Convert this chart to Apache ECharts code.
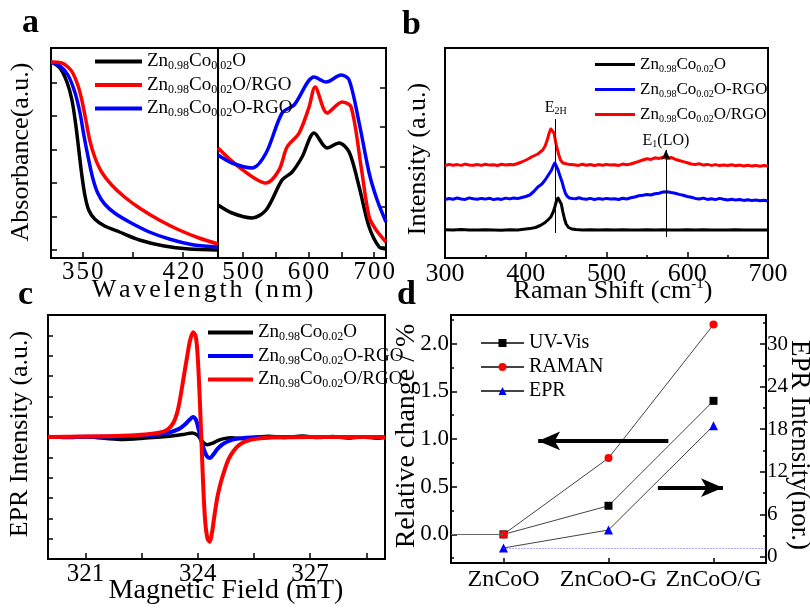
<!DOCTYPE html>
<html>
<head>
<meta charset="utf-8">
<script src="https://cdn.jsdelivr.net/npm/echarts@6/dist/echarts.min.js"></script>
<style>
  html, body { margin: 0; padding: 0; background: #fff; }
  #main { width: 810px; height: 608px; }
</style>
</head>
<body>
<div id="main"></div>
<script>
const FONT = 'Liberation Serif'
const BLACK = '#000000', RED = '#ff0000', BLUE = '#0000ff'

// series names (same sample in every panel keeps the same colour)
const S0 = 'Zn0.98Co0.02O', S1 = 'Zn0.98Co0.02O/RGO', S2 = 'Zn0.98Co0.02O-RGO'

// panel a - absorbance, short wavelength part [nm, a.u.]
const absBlackShort = [[327.8,196],[334,190],[338.9,176],[342.4,158],[345.1,133],[347.2,108],[349.3,83],[351.4,63],[354.1,48],[358.3,39],[365.2,32],[375.6,26],[389.5,18],[406.8,12],[424.1,9],[444.3,8]]
const absRedShort = [[327.8,196],[335.4,195],[339.6,191],[343,185],[346.5,173],[349.3,158],[352.1,138],[354.8,118],[358.3,101],[363.1,86],[370.1,73],[379.1,61],[389.5,50],[403.3,38],[417.2,28],[431.1,20],[444.3,14]]
const absBlueShort = [[327.8,196],[334,192],[339.6,183],[344.4,166],[347.9,146],[350.7,123],[353.4,103],[356.9,80],[360.4,65],[365.2,54],[372.2,45],[382.5,36],[396.4,26],[410.3,19],[427.6,13],[444.3,11]]
// panel a - long wavelength part
const absBlackLong = [[461.8,53],[483.2,45],[513.7,40],[535.1,48],[559.5,78],[574.8,86],[590,101],[608.4,125],[628.2,110],[646.5,115],[661.8,106],[677.1,71],[692.3,31],[707.6,11],[718,9]]
const absRedLong = [[461.8,110],[493.9,91],[535.1,75],[554.9,88],[567.1,111],[585.5,125],[600.7,151],[609.9,171],[628.2,145],[651.1,156],[664.8,151],[680.1,91],[692.3,41],[703,28],[718,16]]
const absBlueLong = [[461.8,103],[483.2,95],[513.7,90],[535.1,105],[559.5,145],[577.8,153],[608.4,181],[626.7,176],[649.6,183],[661.8,178],[677.1,135],[692.3,85],[704.5,58],[718,36]]
const aShortTicks = [350, 385, 420], aShortLabels = [350, 420]
const aLongTicks = [500, 550, 600, 650, 700], aLongLabels = [500, 600, 700]
const aLeftYTicks = [8, 41, 75, 108, 142, 175]
const aRightYTicks = [11, 51, 91, 131, 170]

// panel b - Raman, curves stacked with offsets [cm-1, a.u.]
const ramanBlack = [[300,28.2],[310,28.0],[320,28.4],[330,28.1],[340,27.9],[350,28.3],[360,28.0],[370,27.8],[380,28.2],[390,28.0],[395,28.6],[405,29.4],[412,30.5],[418,32.5],[424,35.5],[428,38.5],[431,41],[434,46],[436,51],[438,57],[440,60],[442,59],[444,54],[446,46],[448,39],[450,34],[453,30.5],[457,29],[462,28.4],[470,28.0],[480,28.3],[490,27.9],[500,28.2],[510,28.0],[520,28.3],[530,28.1],[540,27.9],[550,28.2],[560,28.0],[570,28.3],[580,28.1],[590,27.9],[600,28.2],[610,28.0],[620,28.3],[630,27.9],[640,28.1],[650,28.0],[660,28.2],[670,27.9],[680,28.1],[690,28.0],[700,28.1]]
const ramanBlue = [[300,58.5],[305,59.5],[310,58.8],[315,60.0],[320,59.0],[325,58.6],[330,60.1],[335,59.2],[340,58.7],[345,59.6],[350,58.9],[355,59.8],[360,58.4],[365,59.3],[370,58.6],[375,59.9],[380,59.1],[385,60.0],[390,59.4],[395,60.5],[400,61.5],[405,63],[410,66.5],[415,71],[420,74],[424,78],[428,83],[432,88],[434,92],[436,95],[438,93],[440,88],[442,83],[445,76],[447,70],[449,65],[451,62],[454,60],[458,59.5],[462,59.2],[466,60.2],[470,59.3],[475,58.7],[480,59.6],[485,58.5],[490,59.4],[495,58.8],[500,59.6],[505,58.9],[510,59.2],[515,58.5],[520,59.8],[525,59.0],[530,60.2],[535,61.0],[540,62.3],[545,62.8],[550,63.5],[555,63.0],[560,64.2],[565,64.8],[570,66],[575,66.3],[580,65.5],[585,64.8],[590,63.6],[595,62.8],[600,61.5],[605,60.8],[610,59.6],[615,59.0],[620,59.9],[625,58.6],[630,59.3],[635,58.4],[640,59.6],[645,58.7],[650,58.0],[655,58.8],[660,57.9],[665,58.5],[670,57.6],[675,58.3],[680,57.4],[685,57.9],[690,57.2],[695,57.8],[700,57.0]]
const ramanRed = [[300,92.5],[305,93.6],[310,92.8],[315,93.4],[320,92.6],[325,93.9],[330,93.0],[335,92.7],[340,93.5],[345,92.6],[350,93.8],[355,92.9],[360,93.3],[365,92.5],[370,93.7],[375,93.0],[380,93.6],[385,93.2],[390,94.5],[395,96],[399,97.5],[403,99],[407,101],[411,102.5],[415,104],[418,106],[421,108],[424,112],[427,119],[429,125],[431,129],[433,130],[435,125],[437,116],[439,109],[441,103],[443,98],[446,95],[450,94.2],[455,93.4],[460,93.2],[465,92.6],[470,93.8],[475,92.8],[480,93.5],[485,92.5],[490,93.4],[495,92.7],[500,93.6],[505,92.9],[510,93.3],[515,92.6],[520,93.9],[525,93.2],[530,94.0],[535,95.3],[540,96.6],[545,98.0],[550,99.3],[555,98.6],[560,100.2],[565,99.6],[570,100.8],[575,99.4],[580,100.5],[585,98.8],[590,97.5],[595,96.4],[600,95.2],[605,94.0],[610,93.5],[615,94.2],[620,92.9],[625,93.6],[630,92.6],[635,93.4],[640,92.4],[645,93.1],[650,92.5],[655,93.3],[660,92.3],[665,92.9],[670,92.0],[675,92.8],[680,91.9],[685,92.6],[690,91.8],[695,92.4],[700,91.9]]
const ramanE2H = [[437, 25], [437, 139]]
const ramanE1 = [[573.6, 21], [573.6, 108]]

// panel c - EPR derivative signal [mT, a.u.]
const eprBlack = [[320,0.02],[320.5,-0.03],[321,0.01],[321.5,-0.06],[322,-0.12],[322.3,-0.1],[322.6,-0.05],[323,0.0],[323.3,0.05],[323.6,0.12],[323.85,0.2],[324.0,0.08],[324.1,-0.18],[324.25,-0.38],[324.4,-0.3],[324.55,-0.16],[324.7,-0.08],[324.9,-0.04],[325.2,-0.08],[325.5,-0.02],[325.9,0.04],[326.3,-0.02],[326.8,0.05],[327.2,-0.03],[327.6,0.02],[328.0,-0.05],[328.4,0.0],[328.8,-0.06],[329,-0.03]]
const eprBlue = [[320,0],[321,0.01],[322,0.04],[322.8,0.1],[323.2,0.2],[323.5,0.4],[323.65,0.6],[323.78,0.85],[323.87,0.98],[323.95,0.85],[324.02,0.4],[324.1,-0.2],[324.18,-0.7],[324.26,-0.98],[324.33,-1.03],[324.42,-0.85],[324.52,-0.6],[324.65,-0.38],[324.8,-0.22],[325,-0.1],[325.4,-0.03],[326,0],[329,0]]
const eprRed = [[320,0],[321,0.02],[322,0.06],[322.6,0.12],[323,0.22],[323.2,0.38],[323.35,0.7],[323.45,1.2],[323.53,1.9],[323.62,2.9],[323.72,4.0],[323.8,4.8],[323.88,5.15],[323.95,4.9],[324.0,3.9],[324.05,2.0],[324.1,-0.3],[324.15,-2.6],[324.2,-4.2],[324.26,-5.0],[324.32,-5.15],[324.38,-4.7],[324.45,-3.8],[324.53,-2.9],[324.62,-2.2],[324.72,-1.6],[324.82,-1.1],[324.95,-0.7],[325.1,-0.4],[325.3,-0.2],[325.6,-0.08],[326,-0.03],[327,0],[329,0]]
const cFieldTicks = [321, 322.5, 324, 325.5, 327, 328.5], cFieldLabels = [321, 324, 327]

// panel d - relative change
const dCategories = ['ZnCoO', 'ZnCoO-G', 'ZnCoO/G']
const uvVisChange = [0, 0.3, 1.4]
const ramanChange = [0, 0.8, 2.2]
const eprChange = [1.27, 3.8, 18.5]
const dLeftLabels = [0, 0.5, 1, 1.5, 2], dLeftMinor = [-0.25, 0.25, 0.75, 1.25, 1.75, 2.25]
const dRightLabels = [0, 6, 12, 18, 24, 30], dRightMinor = [3, 9, 15, 21, 27, 33]
const dArrowLeft = [[2.07, 0.98], [0.83, 0.98]]
const dArrowRight = [[1.97, 0.49], [2.59, 0.49]]

function atCat(vals) {
  return vals.map((v, i) => [i + 0.5, v])
}

function subName(name) {
  return '{n|Zn}{s|0.98}{n|Co}{s|0.02}{n|' + name.slice(12) + '}'
}
function richSub(size, sub) {
  return {
    n: {fontFamily: FONT, fontSize: size, color: '#000', lineHeight: size + 2},
    s: {fontFamily: FONT, fontSize: sub, color: '#000', verticalAlign: 'bottom', lineHeight: 6}
  }
}
// letter spaced text (origin export look)
function spaced(str) {
  return str.split('').map(c => '{c|' + c + '}').join('')
}

function valueAxis(o) {
  return {
    type: 'value', gridIndex: o.grid, min: o.min, max: o.max, position: o.position,
    interval: o.interval,
    axisLine: {show: false, onZero: false},
    splitLine: {show: false},
    axisTick: o.ticks || o.interval ? {show: true, inside: true, length: o.tickLen || 6, customValues: o.ticks, lineStyle: {color: '#000', width: 1.5}} : {show: false},
    minorTick: o.minor ? {show: true, splitNumber: o.minor, length: 3, lineStyle: {color: '#000', width: 1.5}} : {show: false},
    axisLabel: o.labels || o.showLabels ? Object.assign({
      show: true, customValues: o.labels, color: '#000', fontFamily: FONT,
      fontSize: o.fontSize || 25, margin: o.margin == null ? 3 : o.margin
    }, o.labelExtra) : {show: false}
  }
}

function curve(name, data, color, x, y, width, smooth) {
  return {
    name: name, type: 'line', xAxisIndex: x, yAxisIndex: y, data: data,
    symbol: 'none', smooth: smooth || false,
    lineStyle: {color: color, width: width, join: 'round'},
    itemStyle: {color: color}
  }
}

function text(str, x, y, size, rot, extra) {
  return {
    type: 'text', x: x, y: y, rotation: rot || 0, silent: true,
    style: Object.assign({
      text: str, fontFamily: FONT, fontSize: size, fill: '#000',
      align: 'center', verticalAlign: 'middle', textAlign: 'center', textVerticalAlign: 'middle'
    }, extra)
  }
}

const digitLabel = {
  formatter: v => spaced(String(v)),
  rich: {c: {fontFamily: FONT, fontSize: 25, color: '#000', padding: [0, 1, 0, 1]}}
}

function subLegend(names, left, top, width, thick, gap, size, sub) {
  return {
    data: names, left: left, top: top, orient: 'vertical', icon: 'rect',
    itemWidth: width, itemHeight: thick, itemGap: gap, selectedMode: false,
    formatter: subName, textStyle: {rich: richSub(size, sub)}
  }
}

const option = {
  animation: false,
  backgroundColor: '#fff',
  grid: [
    {left: 51, top: 48, width: 167, height: 210},
    {left: 218, top: 48, width: 168, height: 210},
    {left: 445, top: 48, width: 323, height: 210},
    {left: 48, top: 315, width: 337, height: 244},
    {left: 451, top: 315, width: 315, height: 248}
  ].map(g => Object.assign({show: true, borderColor: '#000', borderWidth: 2}, g)),
  xAxis: [
    valueAxis({grid: 0, min: 327.8, max: 444.3, ticks: aShortTicks, labels: aShortLabels, margin: 2, labelExtra: digitLabel}),
    valueAxis({grid: 1, min: 461.8, max: 718, ticks: aLongTicks, labels: aLongLabels, margin: 2, labelExtra: digitLabel}),
    valueAxis({grid: 2, min: 300, max: 700, interval: 100, minor: 2, showLabels: true, margin: 3, fontSize: 26}),
    valueAxis({grid: 3, min: 320, max: 329, ticks: cFieldTicks, labels: cFieldLabels, margin: 3}),
    valueAxis({grid: 4, min: 0, max: 3, ticks: [0.5, 1.5, 2.5], tickLen: 5, labels: [0.5, 1.5, 2.5], fontSize: 24, margin: 5,
      labelExtra: {formatter: v => dCategories[Math.round(v - 0.5)]}})
  ],
  yAxis: [
    valueAxis({grid: 0, min: 0, max: 210, position: 'left', ticks: aLeftYTicks}),
    valueAxis({grid: 1, min: 0, max: 210, position: 'right', ticks: aRightYTicks}),
    valueAxis({grid: 2, min: 0, max: 210}),
    valueAxis({grid: 3, min: -6, max: 6, ticks: [-5, -4, -3, -2, -1, 0, 1, 2, 3, 4, 5], tickLen: 5}),
    valueAxis({grid: 4, min: -0.3, max: 2.3, position: 'left', ticks: dLeftLabels, labels: dLeftLabels, fontSize: 23, margin: 2,
      labelExtra: {formatter: v => v.toFixed(1)}}),
    valueAxis({grid: 4, min: -0.85, max: 34.1, position: 'right', ticks: dRightLabels, labels: dRightLabels, fontSize: 21, margin: 1}),
    valueAxis({grid: 4, min: -0.3, max: 2.3, position: 'left', ticks: dLeftMinor, tickLen: 3}),
    valueAxis({grid: 4, min: -0.85, max: 34.1, position: 'right', ticks: dRightMinor, tickLen: 3})
  ],
  legend: [
    subLegend([S0, S1, S2], 90, 47, 47, 4, 3.5, 19, 12),
    subLegend([S0, S2, S1], 590, 51, 40, 3, 7, 17, 10),
    subLegend([S0, S2, S1], 203, 318, 45, 4, 3.5, 19, 12),
    {data: ['UV-Vis', 'RAMAN', 'EPR'], left: 475, top: 327, orient: 'vertical', itemWidth: 43, itemHeight: 10, itemGap: 2,
      selectedMode: false, textStyle: {fontFamily: FONT, fontSize: 20, color: '#000', lineHeight: 22}}
  ],
  series: [
    // a
    curve(S0, absBlackShort, BLACK, 0, 0, 3.5, 0.3),
    curve(S2, absBlueShort, BLUE, 0, 0, 3.5, 0.3),
    curve(S1, absRedShort, RED, 0, 0, 3.5, 0.3),
    curve(S0, absBlackLong, BLACK, 1, 1, 3.5, 0.3),
    curve(S1, absRedLong, RED, 1, 1, 3.5, 0.3),
    curve(S2, absBlueLong, BLUE, 1, 1, 3.5, 0.3),
    // b
    Object.assign(curve(S0, ramanBlack, BLACK, 2, 2, 3), {
      markLine: {
        silent: true, symbol: 'none', lineStyle: {color: '#000', width: 1, type: 'solid'},
        label: {show: true, position: 'end', distance: 3, formatter: 'E{s|2H}', color: '#000', fontFamily: FONT, fontSize: 16,
          rich: {s: {fontFamily: FONT, fontSize: 10, verticalAlign: 'bottom', lineHeight: 4, color: '#000'}}},
        data: [[{coord: ramanE2H[0]}, {coord: ramanE2H[1]}]]
      }
    }),
    Object.assign(curve(S2, ramanBlue, BLUE, 2, 2, 3), {
      markLine: {
        silent: true, symbol: ['none', 'arrow'], symbolSize: [7, 10], lineStyle: {color: '#000', width: 1, type: 'solid'},
        label: {show: true, position: 'end', distance: 1, formatter: 'E{s|1}(LO)', color: '#000', fontFamily: FONT, fontSize: 16,
          rich: {s: {fontFamily: FONT, fontSize: 10, verticalAlign: 'bottom', lineHeight: 4, color: '#000'}}},
        data: [[{coord: ramanE1[0]}, {coord: ramanE1[1]}]]
      }
    }),
    curve(S1, ramanRed, RED, 2, 2, 3),
    // c
    curve(S0, eprBlack, BLACK, 3, 3, 3.5, 0.3),
    curve(S2, eprBlue, BLUE, 3, 3, 4, 0.3),
    curve(S1, eprRed, RED, 3, 3, 4, 0.3),
    // d
    {
      name: 'UV-Vis', type: 'line', xAxisIndex: 4, yAxisIndex: 4, data: atCat(uvVisChange),
      symbol: 'rect', symbolSize: 8, lineStyle: {color: '#444', width: 1}, itemStyle: {color: BLACK},
      markLine: {
        silent: true, symbol: ['none', 'arrow'], symbolSize: [14, 22], label: {show: false},
        lineStyle: {color: '#000', width: 4, type: 'solid'},
        data: [[{coord: dArrowLeft[0]}, {coord: dArrowLeft[1]}], [{coord: dArrowRight[0]}, {coord: dArrowRight[1]}]]
      }
    },
    {
      name: 'RAMAN', type: 'line', xAxisIndex: 4, yAxisIndex: 4, data: atCat(ramanChange),
      symbol: 'circle', symbolSize: 8, lineStyle: {color: '#444', width: 1}, itemStyle: {color: RED},
      markLine: {
        silent: true, symbol: 'none', label: {show: false},
        lineStyle: {color: '#666', width: 1, type: 'solid'},
        data: [[{coord: [0, 0]}, {coord: [0.5, 0]}]]
      }
    },
    {
      name: 'EPR', type: 'line', xAxisIndex: 4, yAxisIndex: 5, data: atCat(eprChange),
      symbol: 'triangle', symbolSize: 9, lineStyle: {color: '#444', width: 1}, itemStyle: {color: BLUE},
      markLine: {
        silent: true, symbol: 'none', label: {show: false},
        lineStyle: {color: '#5555ff', width: 1, type: [1, 2]},
        data: [[{coord: [0.5, eprChange[0]]}, {coord: [3, eprChange[0]]}]]
      }
    }
  ],
  graphic: [
    text('a', 22, 23.5, 34, 0, {fontWeight: 'bold', align: 'left', textAlign: 'left'}),
    text('b', 402, 25.5, 34, 0, {fontWeight: 'bold', align: 'left', textAlign: 'left'}),
    text('c', 18, 295.5, 34, 0, {fontWeight: 'bold', align: 'left', textAlign: 'left'}),
    text('d', 397, 295.5, 34, 0, {fontWeight: 'bold', align: 'left', textAlign: 'left'}),
    text('Absorbance(a.u.)', 21, 152, 26, Math.PI / 2),
    text(spaced('Wavelength (nm)'), 204, 290, 26, 0, {rich: {c: {fontFamily: FONT, fontSize: 26, color: '#000', padding: [0, 2.8, 0, 0]}}}),
    text('Intensity (a.u.)', 418, 159, 26, Math.PI / 2),
    text('{n|Raman Shift (cm}{p|-1}{n|)}', 613, 291, 26, 0, {rich: {
      n: {fontFamily: FONT, fontSize: 26, color: '#000', lineHeight: 28},
      p: {fontFamily: FONT, fontSize: 15, color: '#000', verticalAlign: 'top', lineHeight: 10}
    }}),
    text('EPR Intensity (a.u.)', 20, 434, 26, Math.PI / 2),
    text('Magnetic Field (mT)', 226, 591, 28, 0),
    text('Relative change / %', 407, 436, 28, Math.PI / 2),
    text('EPR Intensity(nor.)', 799, 445, 27, -Math.PI / 2)
  ]
}

const chart = echarts.init(document.getElementById('main'), null, {renderer: 'canvas'})
chart.setOption(option)
</script>
</body>
</html>
